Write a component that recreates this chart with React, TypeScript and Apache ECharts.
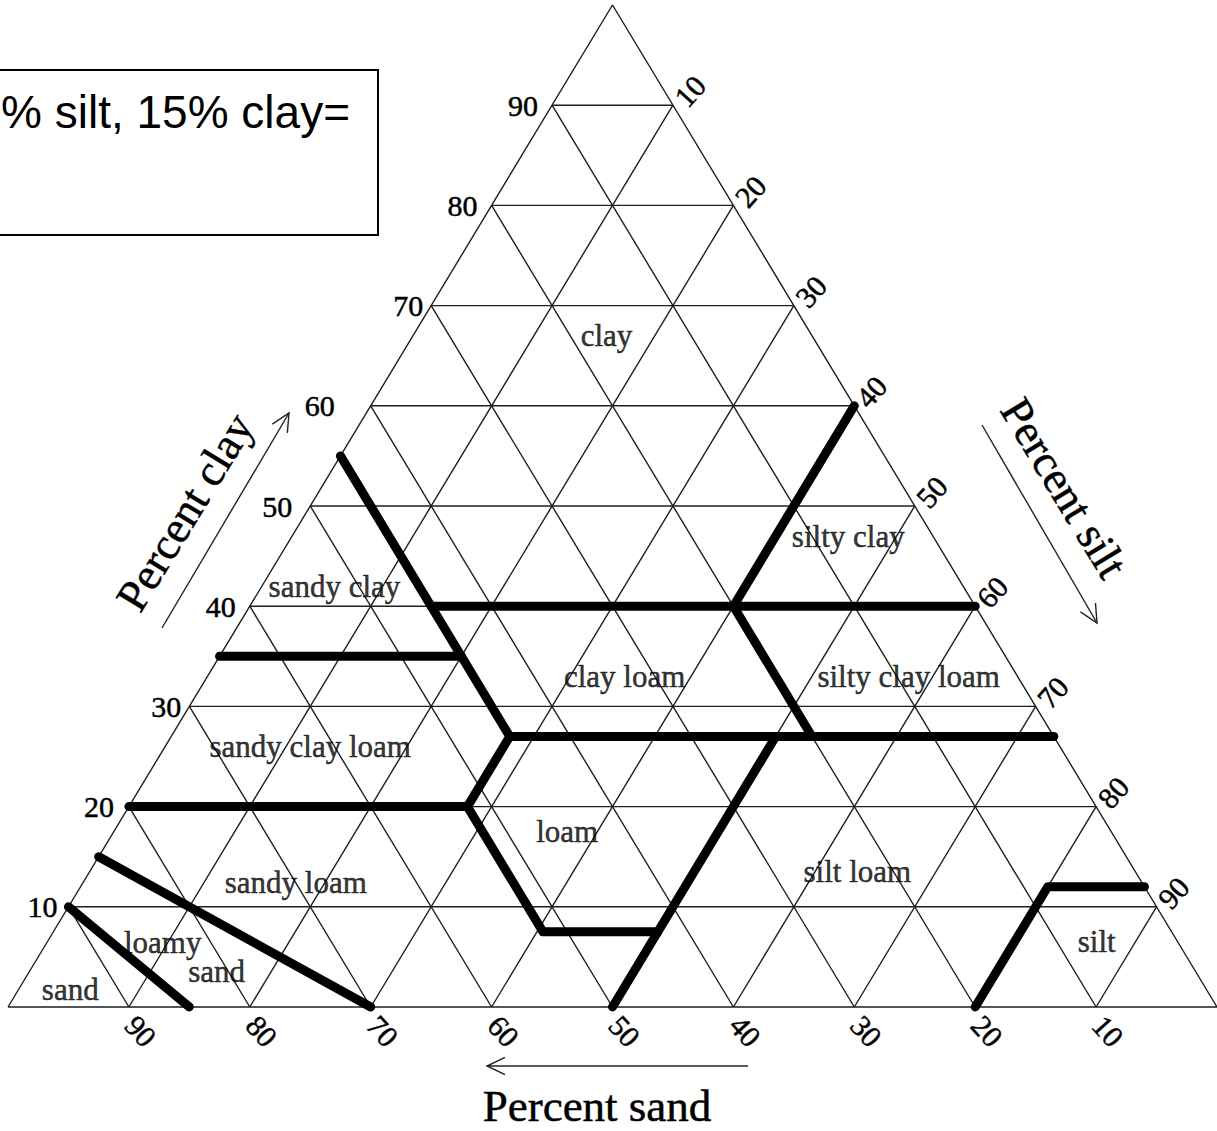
import React, { useEffect, useRef } from "react";
import * as echarts from "echarts";

// ---- data (ternary compositions as [sand, silt, clay] percent) ----
const gridSteps = [10, 20, 30, 40, 50, 60, 70, 80, 90];
const clayTicks = [10, 20, 30, 40, 50, 60, 70, 80, 90];
const siltTicks = [10, 20, 30, 40, 50, 60, 70, 80, 90];
const sandTicks = [90, 80, 70, 60, 50, 40, 30, 20, 10];

const boundaryLines: number[][][] = [
  [[45, 0, 55], [45, 15, 40], [45, 20, 35], [45, 28, 27], [52, 28, 20], [52, 40.5, 7.5], [42.5, 50, 7.5]],
  [[45, 15, 40], [0, 60, 40]],
  [[65, 0, 35], [45, 20, 35]],
  [[45, 28, 27], [0, 73, 27]],
  [[80, 0, 20], [52, 28, 20]],
  [[85, 0, 15], [70, 30, 0]],
  [[90, 0, 10], [85, 15, 0]],
  [[50, 50, 0], [23, 50, 27]],
  [[0, 40, 60], [20, 40, 40], [20, 53, 27]],
  [[20, 80, 0], [8, 80, 12], [0, 88, 12]],
];

const regionNames = [
  "clay", "silty clay", "sandy clay", "clay loam", "silty clay loam", "sandy clay loam",
  "loam", "silt loam", "sandy loam", "loamy", "sand", "sand", "silt",
];
const regionPositions: number[][] = [
  [17, 16, 67], [7, 46, 47], [52, 6, 42], [32.5, 34.5, 33], [9, 58, 33], [62, 12, 26],
  [45, 37.5, 17.5], [23, 63.5, 13.5], [70, 17.6, 12.4], [84, 9.6, 6.4], [81, 15.5, 3.5],
  [94, 4.3, 1.7], [6.7, 86.8, 6.5],
];

const boxText = "% silt, 15% clay=";
const axisTitles = ["Percent clay", "Percent silt", "Percent sand"];

// ---- styling ----
const SERIF = "'Liberation Serif', 'Times New Roman', serif";
const SANS = "'Liberation Sans', Arial, sans-serif";
const clayLabelGap = [11, 15, 8, 14, 18, 36, 8, 14, 14];
const ink = { fill: "#000", stroke: "#000", lineWidth: 0.5 };

const toXY = (p: number[]) => [p[1] + p[2] / 2, p[2]];

function arrow(x1: number, y1: number, x2: number, y2: number) {
  const ang = Math.atan2(y2 - y1, x2 - x1);
  const L = 20;
  const a1 = ang + Math.PI - 0.45;
  const a2 = ang + Math.PI + 0.45;
  return [
    { type: "line", shape: { x1, y1, x2, y2 }, style: { stroke: "#222", lineWidth: 1.4 } },
    {
      type: "polyline",
      shape: {
        points: [
          [x2 + L * Math.cos(a1), y2 + L * Math.sin(a1)],
          [x2, y2],
          [x2 + L * Math.cos(a2), y2 + L * Math.sin(a2)],
        ],
      },
      style: { stroke: "#222", lineWidth: 1.4, fill: "none" },
    },
  ];
}

export default function App() {
  const ref = useRef<HTMLDivElement>(null);
  useEffect(() => {
    document.body.style.margin = "0";
    const chart = echarts.init(ref.current!, null, { renderer: "svg" });

    const series: any[] = [];
    const thin = { color: "#1e1e1e", width: 1.4 };
    const addThin = (pts: number[][]) =>
      series.push({
        type: "line", data: pts.map(toXY), symbol: "none", silent: true, z: 2,
        lineStyle: thin, clip: false,
      });
    // triangle outline
    addThin([[100, 0, 0], [0, 100, 0], [0, 0, 100], [100, 0, 0]]);
    gridSteps.forEach((k) => {
      addThin([[100 - k, 0, k], [0, 100 - k, k]]); // clay
      addThin([[k, 0, 100 - k], [k, 100 - k, 0]]); // sand
      addThin([[0, k, 100 - k], [100 - k, k, 0]]); // silt
    });
    boundaryLines.forEach((pts) =>
      series.push({
        type: "line", data: pts.map(toXY), symbol: "none", silent: true, z: 3, clip: false,
        lineStyle: { color: "#000", width: 9, cap: "round", join: "round" },
      })
    );
    series.push({
      type: "scatter",
      symbolSize: 1,
      itemStyle: { color: "rgba(0,0,0,0)" },
      silent: true,
      z: 4,
      data: regionPositions.map((p, i) => ({ name: regionNames[i], value: toXY(p) })),
      label: {
        show: true, position: "inside", formatter: "{b}", color: "#000",
        textBorderColor: "#000", textBorderWidth: 0.5,
        fontFamily: SERIF, fontSize: 31, align: "center", verticalAlign: "middle",
      },
    });

    chart.setOption({
      animation: false,
      backgroundColor: "#fff",
      grid: { left: 8, top: 5, width: 1220, height: 1002 },
      xAxis: { type: "value", min: 0, max: 100, show: false },
      yAxis: { type: "value", min: 0, max: 100, show: false },
      series,
    });

    const px = (p: number[]) => chart.convertToPixel({ gridIndex: 0 } as any, toXY(p)) as number[];
    const tickFont = { fontFamily: SERIF, fontSize: 30, ...ink };
    const g: any[] = [];
    clayTicks.forEach((k, i) => {
      const [x, y] = px([100 - k, 0, k]);
      g.push({ type: "text", x: x - clayLabelGap[i], y, style: { ...tickFont, text: String(k), align: "right", verticalAlign: "middle" } });
    });
    siltTicks.forEach((k) => {
      const [x, y] = px([0, k, 100 - k]);
      g.push({ type: "text", x: x + 17, y: y - 14, rotation: (48 * Math.PI) / 180, style: { ...tickFont, text: String(k), align: "center", verticalAlign: "middle" } });
    });
    sandTicks.forEach((k) => {
      const [x, y] = px([k, 100 - k, 0]);
      g.push({ type: "text", x: x + 12, y: y + 24, rotation: (-48 * Math.PI) / 180, style: { ...tickFont, text: String(k), align: "center", verticalAlign: "middle" } });
    });
    const edgeRot = Math.atan2(1002, 610);
    const titleFont = { fontFamily: SERIF, fontSize: 45, lineHeight: 40, ...ink, align: "center", verticalAlign: "middle" };
    g.push({ type: "text", x: 185, y: 512, rotation: edgeRot, style: { ...titleFont, text: axisTitles[0] } });
    g.push({ type: "text", x: 1064, y: 488, rotation: -edgeRot, style: { ...titleFont, text: axisTitles[1] } });
    g.push({ type: "text", x: 597, y: 1106, style: { ...titleFont, text: axisTitles[2] } });
    g.push(...arrow(162, 628, 289, 413));
    g.push(...arrow(982, 425, 1097, 623));
    g.push(...arrow(748, 1066, 487, 1066));
    // text box
    g.push({ type: "rect", shape: { x: -3, y: 70, width: 381, height: 165 }, style: { fill: "#fff", stroke: "#000", lineWidth: 2 }, z: 10 });
    g.push({ type: "text", x: 350, y: 112, z: 11, style: { text: boxText, fontFamily: SANS, fontSize: 46, fill: "#000", align: "right", verticalAlign: "middle" } });

    chart.setOption({ graphic: { elements: g } });
    return () => chart.dispose();
  }, []);
  return <div ref={ref} style={{ position: "absolute", left: 0, top: 0, width: 1217, height: 1131 }} />;
}
